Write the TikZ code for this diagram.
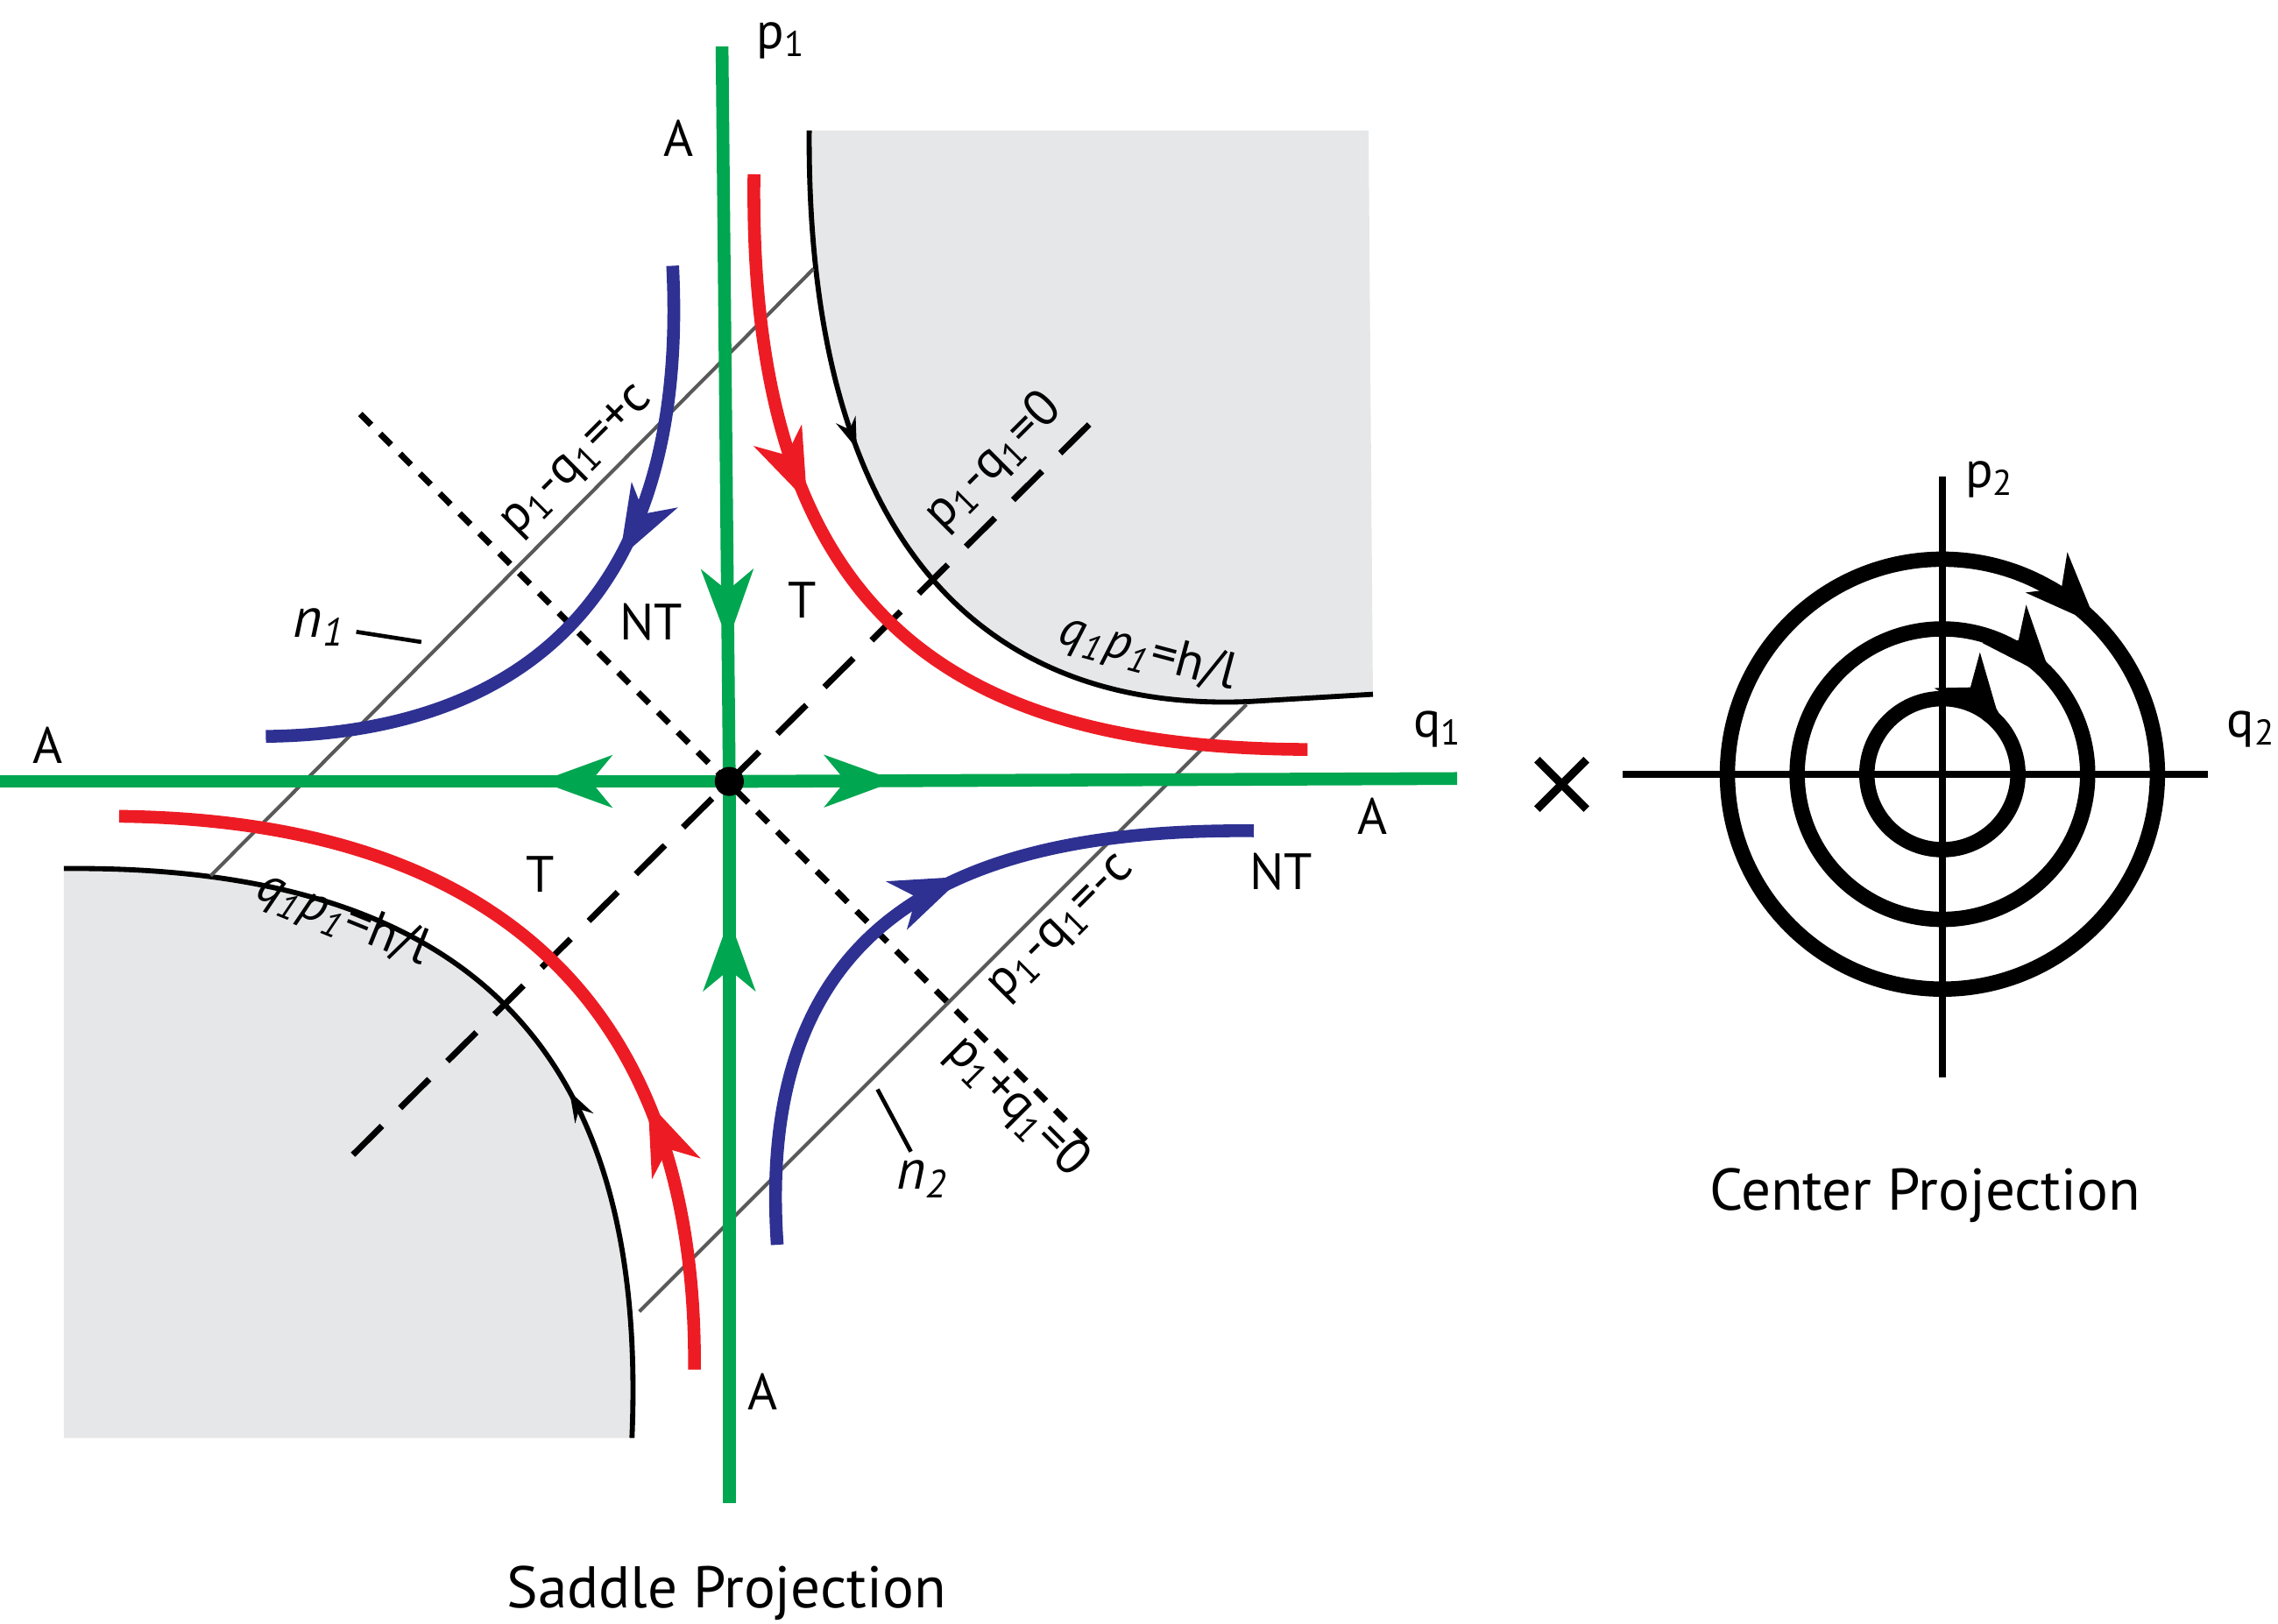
\documentclass[tikz,border=0pt]{standalone}
\usepackage{fontspec}
\setmainfont{PT Sans}
\usetikzlibrary{arrows.meta,decorations.markings,calc}
\definecolor{grn}{RGB}{0,166,80}
\definecolor{blu}{RGB}{46,49,146}
\definecolor{rd}{RGB}{237,28,36}
\definecolor{lgray}{RGB}{230,231,232}
\tikzset{
  arr/.style={postaction={decorate},decoration={markings,mark=at position #1 with {\arrow{Stealth[length=14pt,width=10pt,inset=4pt]}}}},
  sarr/.style={postaction={decorate},decoration={markings,mark=at position #1 with {\arrow{Stealth[length=6pt,width=4pt,inset=2pt]}}}},
  lbl/.style={font=\fontsize{10}{12}\selectfont,inner sep=1pt},
  gline/.style={line width=0.7pt,gray!70!black},
}
\begin{document}
\begin{tikzpicture}[x=0.01cm,y=-0.01cm]
\useasboundingbox (0,0) rectangle (1568,1118);
% shaded regions
\fill[lgray] (557,90) -- (942,90) -- (945,478) -- (860,483) .. controls (700,490) and (555,400) .. (557,90) -- cycle;
\fill[lgray] (44,598) .. controls (350,595) and (445,750) .. (435,990) -- (44,990) -- cycle;
\draw[line width=1pt,sarr=0.34] (557,90) .. controls (555,400) and (700,490) .. (860,483) -- (945,478);
\draw[line width=1pt,sarr=0.38] (435,990) .. controls (445,750) and (350,595) .. (44,598);
% gray lines
\draw[gline] (145,603) -- (560,185);
\draw[gline] (440,903) -- (858,485);
% dashed
\draw[line width=1.2pt,dash pattern=on 8pt off 5pt] (243,795) -- (755,287);
\draw[line width=1.2pt,dash pattern=on 3pt off 2.5pt] (248,285) -- (752,790);
% green axes
\draw[grn,line width=2.5pt,arr=0.26] (502,538) -- (0,538);
\draw[grn,line width=2.5pt,arr=0.23] (502,538) -- (1003,536);
\draw[grn,line width=2.5pt,arr=0.81] (497,32) -- (502,538);
\draw[grn,line width=2.5pt,arr=0.81] (502,1035) -- (502,538);
\fill (502,538) circle (10);
% blue
\draw[blu,line width=2.5pt,arr=0.42] (463,183) .. controls (475,420) and (350,505) .. (183,507);
\draw[blu,line width=2.5pt,arr=0.6] (535,857) .. controls (520,640) and (650,570) .. (863,572);
% red
\draw[rd,line width=2.5pt,arr=0.36] (519,120) .. controls (515,420) and (650,515) .. (900,516);
\draw[rd,line width=2.5pt,arr=0.3] (478,943) .. controls (480,700) and (350,565) .. (82,562);
% labels
\node[lbl] at (538,28) {p\textsubscript{1}};
\node[lbl] at (990,502) {q\textsubscript{1}};
\node[lbl] at (467,95) {A};
\node[lbl] at (33,513) {A};
\node[lbl] at (945,562) {A};
\node[lbl] at (525,958) {A};
\node[lbl] at (448,428) {NT};
\node[lbl] at (552,413) {T};
\node[lbl] at (372,602) {T};
\node[lbl] at (882,600) {NT};
\node[lbl,rotate=45] at (398,318) {p\textsubscript{1}-q\textsubscript{1}=+c};
\node[lbl,rotate=45] at (684,318) {p\textsubscript{1}-q\textsubscript{1}=0};
\node[lbl,rotate=45] at (732,640) {p\textsubscript{1}-q\textsubscript{1}=-c};
\node[lbl,rotate=-45] at (700,762) {p\textsubscript{1}+q\textsubscript{1}=0};
\node[lbl,rotate=-15] at (790,450) {\textit{q\textsubscript{1}p\textsubscript{1}}=h/l};
\node[lbl,rotate=-22] at (236,633) {\textit{q\textsubscript{1}p\textsubscript{1}}=h/l};
\node[lbl,font=\fontsize{11}{13}\selectfont\rmfamily\itshape] (n1) at (220,432) {n\textsubscript{1}};
\coordinate (n1e) at (290,442);
\draw[line width=0.8pt] (n1.east) ++(3,3) -- (n1e);
\node[lbl,font=\fontsize{11}{13}\selectfont\rmfamily\itshape] (n2) at (635,812) {n\textsubscript{2}};
\coordinate (n2e) at (604,750);
\draw[line width=0.8pt] (n2.north) ++(-8,-2) -- (n2e);
\node[lbl,font=\fontsize{11.5}{14}\selectfont] at (500,1097) {Saddle Projection};
% cross
\draw[line width=1.6pt] (1058,523) -- (1092,557) (1058,557) -- (1092,523);
% center projection
\draw[line width=1.3pt] (1117,533) -- (1520,533);
\draw[line width=1.3pt] (1337,328) -- (1337,742);
\foreach \r in {52,100,148}{
  \draw[line width=3pt] (1337,533) circle (\r);
}
\foreach \r/\a in {52/40,100/43,148/46}{
  \draw[-{Stealth[length=14pt,width=11pt,inset=4pt]},line width=3pt] ($(1337,533)+(-\a-14:\r)$) arc[start angle=-\a-14,end angle=-\a+2,radius=\r];
}
\node[lbl] at (1370,330) {p\textsubscript{2}};
\node[lbl] at (1550,502) {q\textsubscript{2}};
\node[lbl,font=\fontsize{11.5}{14}\selectfont] at (1325,823) {Center Projection};
\end{tikzpicture}
\end{document}
